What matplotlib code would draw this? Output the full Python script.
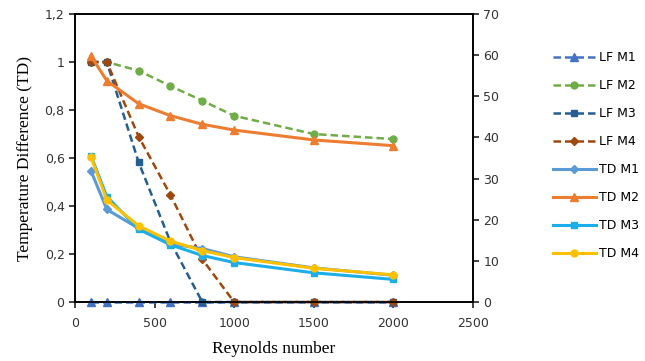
import matplotlib
matplotlib.use("Agg")
import matplotlib.pyplot as plt
from matplotlib.ticker import FuncFormatter, MultipleLocator

# Reynolds numbers shared by every series
reynolds = [100, 200, 400, 600, 800, 1000, 1500, 2000]

# LF series (left axis, 0..1.2)
lf_m1 = [0, 0, 0, 0, 0, 0, 0, 0]
lf_m2 = [1.0, 1.0, 0.964, 0.90, 0.839, 0.776, 0.70, 0.679]
lf_m3 = [1.0, 1.0, 0.582, 0.25, 0, 0, 0, 0]
lf_m4 = [1.0, 1.0, 0.689, 0.446, 0.178, 0, 0, 0]

# TD series (right axis, 0..70)
td_m1 = [31.9, 22.5, 17.9, 14.1, 13.0, 11.0, 8.3, 6.5]
td_m2 = [59.8, 53.8, 48.2, 45.3, 43.2, 41.8, 39.4, 38.0]
td_m3 = [35.6, 25.6, 17.7, 13.9, 11.3, 9.6, 7.1, 5.5]
td_m4 = [35.3, 24.8, 18.5, 14.8, 12.5, 10.8, 8.2, 6.6]

tick_font = "DejaVu Sans"
title_font = "Liberation Serif"

fig = plt.figure(figsize=(6.45, 3.61), dpi=100)
ax = fig.add_axes([0.1163, 0.1634, 0.6167, 0.7977])
ax2 = ax.twinx()

dash = (3, 1.6)
lf_style = dict(lw=1.8, dashes=dash, clip_on=False, zorder=3)
ax.plot(reynolds, lf_m1, color="#4472C4", marker="^", ms=6, label="LF M1", **lf_style)
ax.plot(reynolds, lf_m2, color="#70AD47", marker="o", ms=5, label="LF M2", **lf_style)
ax.plot(reynolds, lf_m3, color="#255E91", marker="s", ms=4.5, label="LF M3", **lf_style)
ax.plot(reynolds, lf_m4, color="#9E480E", marker="D", ms=4.5, label="LF M4", **lf_style)

ax2.plot(reynolds, td_m1, color="#5B9BD5", lw=2.2, marker="D", ms=4.5, label="TD M1")
ax2.plot(reynolds, td_m2, color="#ED7D31", lw=2.2, marker="^", ms=6, label="TD M2")
ax2.plot(reynolds, td_m3, color="#1CAEE8", lw=2.2, marker="s", ms=5, label="TD M3")
ax2.plot(reynolds, td_m4, color="#FFC000", lw=2.2, marker="o", ms=5, label="TD M4")

ax.set_xlim(0, 2500)
ax.set_ylim(0, 1.2)
ax2.set_ylim(0, 70)
ax.xaxis.set_major_locator(MultipleLocator(500))
ax.yaxis.set_major_locator(MultipleLocator(0.2))
ax2.yaxis.set_major_locator(MultipleLocator(10))
ax.yaxis.set_major_formatter(FuncFormatter(lambda v, p: f"{v:.1f}".rstrip("0").rstrip(".").replace(".", ",")))

for a in (ax, ax2):
    for s in a.spines.values():
        s.set_linewidth(1.2)
    a.tick_params(length=4, width=1.2, labelsize=9, colors="#222222", labelcolor="#333333")
    for lab in a.get_xticklabels() + a.get_yticklabels():
        lab.set_fontfamily(tick_font)
ax.tick_params(axis="x", pad=7)

ax.set_xlabel("Reynolds number", fontsize=12.5, family=title_font, labelpad=8)
ax.set_ylabel("Temperature Difference (TD)", fontsize=12.5, family=title_font, labelpad=8)

h1, l1 = ax.get_legend_handles_labels()
h2, l2 = ax2.get_legend_handles_labels()
fig.legend(h1 + h2, l1 + l2, loc="upper left", bbox_to_anchor=(0.848, 0.875),
           frameon=False, handlelength=3.4, handletextpad=0.3,
           labelspacing=1.2, borderpad=0, prop={"family": tick_font, "size": 9})

fig.savefig("out.png", dpi=100)
